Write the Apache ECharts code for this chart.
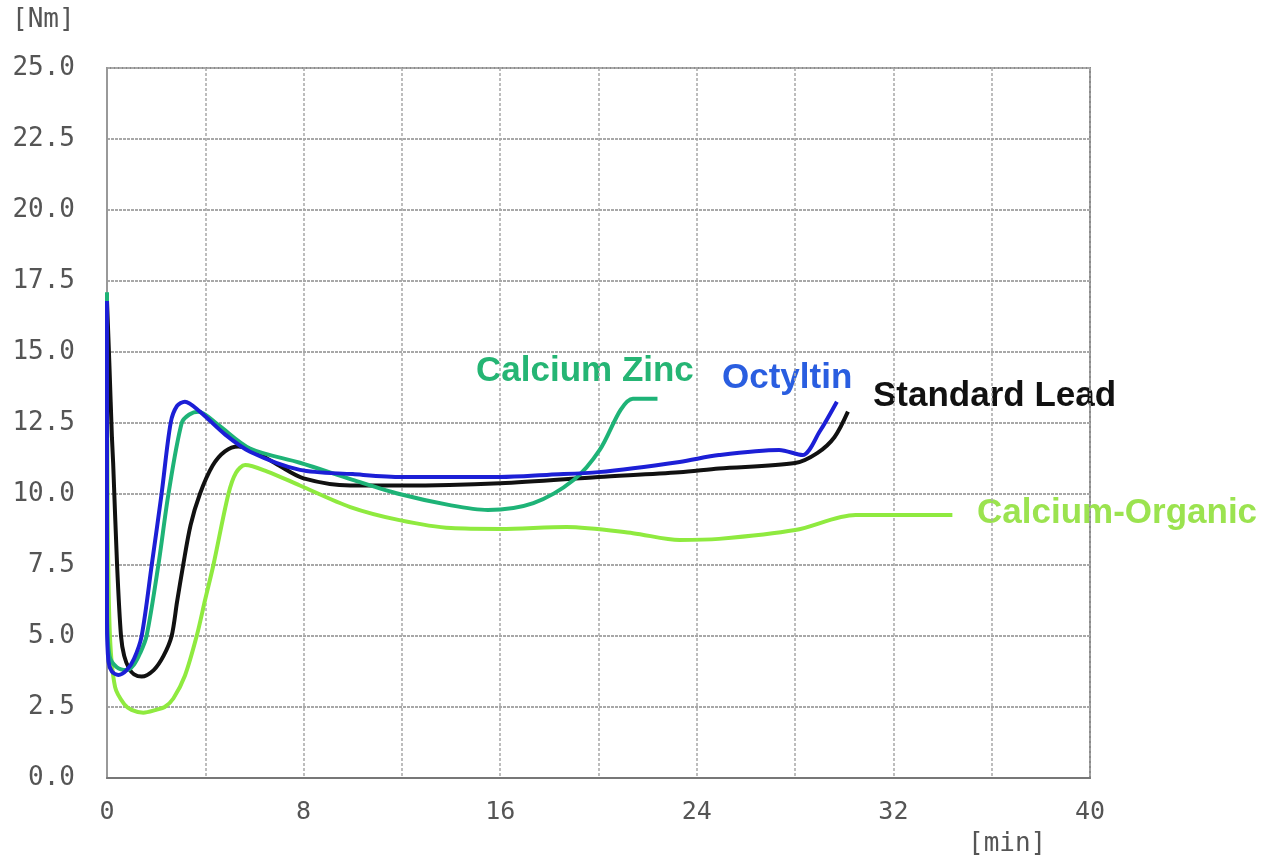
<!DOCTYPE html>
<html>
<head>
<meta charset="utf-8">
<script src="https://cdn.jsdelivr.net/npm/echarts@6/dist/echarts.min.js"></script>
<style>html,body{margin:0;padding:0;background:#fff}#c{width:1278px;height:861px}</style>
</head>
<body>
<div id="c"></div>
<script>
const seriesNames = ['Calcium-Organic', 'Standard Lead', 'Calcium Zinc', 'Octyltin'];
const xTicks = [0, 8, 16, 24, 32, 40];
const yTicks = ['0.0','2.5','5.0','7.5','10.0','12.5','15.0','17.5','20.0','22.5','25.0'];

const calciumOrganic = [[0,16.8],[0.03,9],[0.12,5.0],[0.33,3.2],[0.7,2.6],[1.0,2.4],[1.48,2.3],[2.0,2.4],[2.35,2.5],[2.7,2.8],[3.17,3.6],[3.65,5.0],[4.0,6.3],[4.33,7.5],[4.94,10.0],[5.25,10.75],[5.62,11.02],[6.5,10.8],[7.85,10.3],[9.9,9.54],[11.9,9.08],[14,8.8],[16,8.77],[18.7,8.84],[21.4,8.62],[23.3,8.38],[24.9,8.42],[28,8.73],[30.46,9.26],[34.4,9.26]];
const standardLead = [[0,16.8],[0.1,14.5],[0.2,12],[0.25,11.1],[0.41,7.5],[0.57,5.0],[0.7,4.3],[0.9,3.85],[1.1,3.65],[1.41,3.57],[1.9,3.8],[2.3,4.3],[2.63,5.0],[2.85,6.2],[3.1,7.5],[3.4,8.9],[3.78,10.0],[4.3,11.0],[4.8,11.5],[5.34,11.67],[5.9,11.55],[7,11.0],[8,10.55],[9.9,10.3],[12,10.3],[16,10.38],[20,10.6],[23.3,10.77],[24.9,10.9],[28,11.09],[28.9,11.44],[29.6,12.0],[30.15,12.9]];
const calciumZinc = [[0,17.1],[0,6],[0.1,4.3],[0.4,3.9],[0.8,3.8],[1.1,4.0],[1.35,4.4],[1.61,5.0],[2.09,7.5],[2.5,10.0],[3.04,12.5],[3.35,12.8],[3.72,12.9],[4.5,12.45],[5.82,11.6],[7.85,11.1],[10,10.5],[11.9,10.0],[14,9.6],[15.5,9.44],[17.35,9.68],[19,10.5],[20.05,11.55],[20.9,12.96],[21.4,13.35],[22.4,13.35]];
const octyltin = [[0,16.8],[0,5.5],[0.06,4.1],[0.2,3.75],[0.46,3.63],[0.8,3.8],[1.1,4.2],[1.41,5.0],[1.82,7.5],[2.22,10.0],[2.59,12.5],[2.85,13.1],[3.17,13.25],[3.78,12.9],[4.8,12.1],[5.82,11.49],[7.85,10.85],[10,10.7],[12,10.6],[16,10.6],[18,10.68],[20,10.77],[23.3,11.13],[24.9,11.37],[27.35,11.55],[28.3,11.37],[29,12.2],[29.7,13.25]];

const lineColors = ['#8fea3f', '#111111', '#1eb377', '#1c1fd6'];
const labelColors = ['#9be34f', '#111111', '#25b574', '#2a5ee0'];
const allData = [calciumOrganic, standardLead, calciumZinc, octyltin];

const chart = echarts.init(document.getElementById('c'));
const monoFont = 'DejaVu Sans Mono';
const labelFont = 'bold 35px "Liberation Sans"';
chart.setOption({
  animation: false,
  backgroundColor: '#ffffff',
  grid: {left: 107, right: 188, top: 68, bottom: 83, show: true, borderColor: '#8a8a8a', borderWidth: 2},
  xAxis: {
    type: 'value', min: 0, max: 40, interval: 4,
    axisLine: {show: true, lineStyle: {color: '#777', width: 2}},
    axisTick: {show: false},
    axisLabel: {
      margin: 22, color: '#555', fontFamily: monoFont, fontSize: 25,
      formatter: v => xTicks.indexOf(v) >= 0 ? String(v) : ''
    },
    splitLine: {show: true, lineStyle: {color: '#a8a8a8', width: 1.5, type: [3, 2]}}
  },
  yAxis: {
    type: 'value', min: 0, max: 25, interval: 2.5,
    axisLine: {show: true, lineStyle: {color: '#999', width: 2}},
    axisTick: {show: false},
    axisLabel: {
      margin: 32, color: '#555', fontFamily: monoFont, fontSize: 26,
      formatter: v => yTicks[Math.round(v / 2.5)]
    },
    splitLine: {show: true, lineStyle: {color: '#a8a8a8', width: 2, type: [3, 1]}}
  },
  series: allData.map((d, i) => ({
    name: seriesNames[i], type: 'line', data: d, smooth: 0.3,
    symbol: 'none', lineStyle: {color: lineColors[i], width: 4}, z: 2 + i
  })),
  graphic: [
    {type: 'text', left: 12, top: 7, style: {text: '[Nm]', fill: '#555', font: '26px ' + monoFont}},
    {type: 'text', left: 968, top: 831, style: {text: '[min]', fill: '#555', font: '26px ' + monoFont}},
    {type: 'text', x: 476, y: 371, style: {text: seriesNames[2], fill: labelColors[2], font: labelFont, verticalAlign: 'middle'}},
    {type: 'text', x: 722, y: 378, style: {text: seriesNames[3], fill: labelColors[3], font: labelFont, verticalAlign: 'middle'}},
    {type: 'text', x: 873, y: 396, style: {text: seriesNames[1], fill: labelColors[1], font: labelFont, verticalAlign: 'middle'}},
    {type: 'text', x: 977, y: 513, style: {text: seriesNames[0], fill: labelColors[0], font: labelFont, verticalAlign: 'middle'}}
  ]
});
</script>
</body>
</html>
